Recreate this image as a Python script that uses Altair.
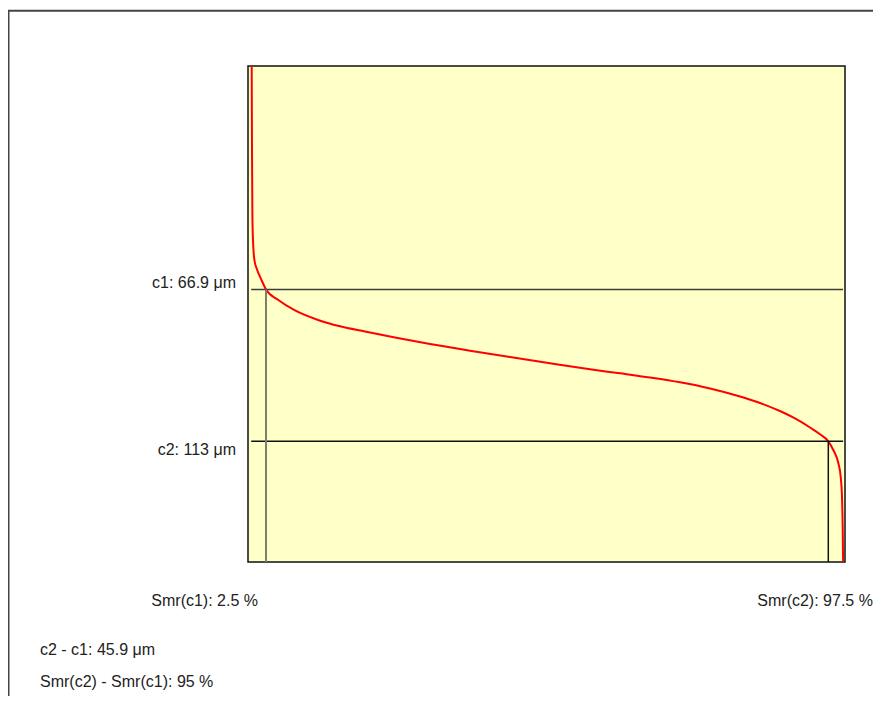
import altair as alt
import pandas as pd

# Material ratio curve (Abbott-Firestone)
smr_pct = [0.084, 0.135, 0.203, 0.304, 0.405, 0.574, 0.895, 1.284, 1.774, 2.5,
           4.528, 7.40, 11.29, 15.0, 19.23, 24.29, 30.21, 36.97, 43.73, 50.48,
           57.24, 62.31, 67.38, 72.45, 77.52, 82.59, 85.96, 89.34, 91.88, 94.41,
           96.10, 97.5, 98.34, 99.19, 99.59, 99.81, 99.93, 100.0]
depth_um = [-0.97, 24.54, 44.27, 51.87, 55.51, 58.25, 60.37, 62.19, 64.16, 66.9,
            70.03, 73.27, 76.15, 78.07, 79.65, 81.47, 83.45, 85.48, 87.43, 89.31,
            91.13, 92.35, 93.62, 95.08, 96.96, 99.39, 101.37, 103.80, 106.07, 108.81,
            110.87, 113.0, 115.64, 119.59, 123.75, 129.82, 138.93, 149.56]

c_names = ["c1", "c2"]
c_values = [66.9, 113.0]
smr_values = [2.5, 97.5]
stat_lines = ["c2 - c1: 45.9 μm", "Smr(c2) - Smr(c1): 95 %"]

X_DOMAIN = [-0.54, 100.32]
Y_DOMAIN = [-0.97, 149.65]
W, H = 597, 496
FONT = "Liberation Sans"
TXT = "#222222"

curve_df = pd.DataFrame({"smr": smr_pct, "depth": depth_um, "i": range(len(smr_pct))})
c_df = pd.DataFrame({"name": c_names, "c": c_values, "smr": smr_values,
                     "x0": [0.0, 0.0], "x1": [100.0, 100.0],
                     "bottom": [Y_DOMAIN[1], Y_DOMAIN[1]]})
c_df["hlabel"] = [f"{n}: {v:g} μm" for n, v in zip(c_names, c_values)]
c_df["slabel"] = [f"Smr({n}): {v:g} %" for n, v in zip(c_names, smr_values)]

xs = alt.Scale(domain=X_DOMAIN, nice=False, zero=False)
ys = alt.Scale(domain=Y_DOMAIN, nice=False, zero=False, reverse=True)

base_frame = alt.Chart(pd.DataFrame({"k": [0]}))
frame_left = base_frame.mark_rule(color="#444444", strokeWidth=2).encode(
    x=alt.value(-239.5), y=alt.value(-55.3), y2=alt.value(700))
frame_top = base_frame.mark_rule(color="#444444", strokeWidth=2).encode(
    x=alt.value(-240.5), x2=alt.value(700), y=alt.value(-55.3))

curve = alt.Chart(curve_df).mark_line(color="#ff0000", strokeWidth=2, interpolate="monotone").encode(
    x=alt.X("smr:Q", scale=xs, axis=None),
    y=alt.Y("depth:Q", scale=ys, axis=None),
    order="i:Q",
)

c1_df = c_df.iloc[[0]]
c2_df = c_df.iloc[[1]]

h1 = alt.Chart(c1_df).mark_rule(color="#3d3d33", strokeWidth=1.3).encode(
    x=alt.X("x0:Q", scale=xs, axis=None), x2="x1:Q", y=alt.Y("c:Q", scale=ys, axis=None))
h2 = alt.Chart(c2_df).mark_rule(color="#111111", strokeWidth=1.5).encode(
    x=alt.X("x0:Q", scale=xs, axis=None), x2="x1:Q", y=alt.Y("c:Q", scale=ys, axis=None))
v1 = alt.Chart(c1_df).mark_rule(color="#7f7f68", strokeWidth=2).encode(
    x=alt.X("smr:Q", scale=xs, axis=None), y=alt.Y("c:Q", scale=ys, axis=None), y2="bottom:Q")
v2 = alt.Chart(c2_df).mark_rule(color="#111111", strokeWidth=1.5).encode(
    x=alt.X("smr:Q", scale=xs, axis=None), y=alt.Y("c:Q", scale=ys, axis=None), y2="bottom:Q")

lab_c1 = alt.Chart(c1_df).mark_text(align="right", baseline="alphabetic", font=FONT,
                                    fontSize=16, color=TXT, dy=-1).encode(
    x=alt.value(-12), y=alt.Y("c:Q", scale=ys, axis=None), text="hlabel:N")
lab_c2 = alt.Chart(c2_df).mark_text(align="right", baseline="top", font=FONT,
                                    fontSize=16, color=TXT, dy=1).encode(
    x=alt.value(-12), y=alt.Y("c:Q", scale=ys, axis=None), text="hlabel:N")

smr1 = alt.Chart(c1_df).mark_text(align="right", baseline="alphabetic", font=FONT,
                                  fontSize=16, color=TXT, dx=-8).encode(
    x=alt.X("smr:Q", scale=xs, axis=None), y=alt.value(539.7), text="slabel:N")
smr2 = alt.Chart(c2_df).mark_text(align="left", baseline="alphabetic", font=FONT,
                                  fontSize=16, color=TXT, dx=-71).encode(
    x=alt.X("smr:Q", scale=xs, axis=None), y=alt.value(539.7), text="slabel:N")

stats1 = alt.Chart(pd.DataFrame({"t": [stat_lines[0]]})).mark_text(
    align="left", baseline="alphabetic", font=FONT, fontSize=16, color=TXT).encode(
    x=alt.value(-208), y=alt.value(589), text="t:N")
stats2 = alt.Chart(pd.DataFrame({"t": [stat_lines[1]]})).mark_text(
    align="left", baseline="alphabetic", font=FONT, fontSize=16, color=TXT).encode(
    x=alt.value(-208), y=alt.value(620.7), text="t:N")

chart = alt.layer(
    frame_left, frame_top, curve, h1, h2, v1, v2, lab_c1, lab_c2, smr1, smr2, stats1, stats2
).properties(
    width=W, height=H,
    autosize=alt.AutoSizeParams(type="none"),
    padding={"left": 240, "top": 58, "right": 28, "bottom": 134},
    background="white",
).configure_view(
    fill="#ffffc8", stroke="#111111", strokeWidth=1.5
)

chart.save("out.html", embed_options={"renderer": "svg", "actions": False})
